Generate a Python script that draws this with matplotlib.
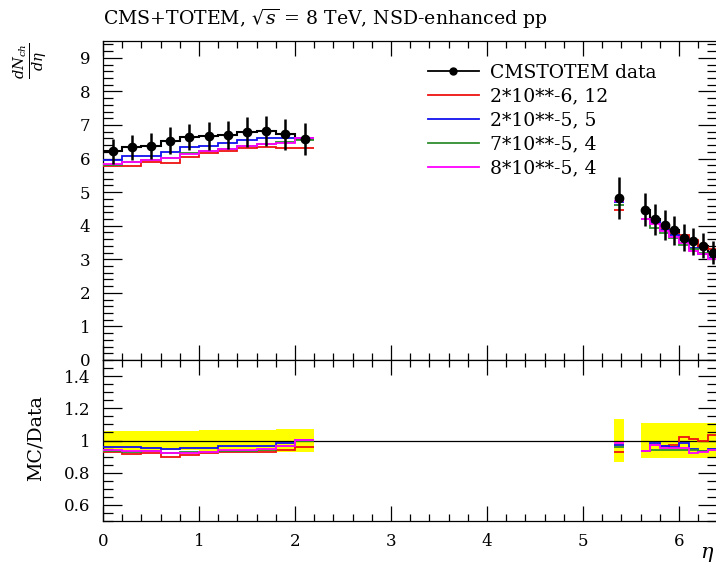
import numpy as np
import matplotlib
matplotlib.use('Agg')
from matplotlib import pyplot as plt
from matplotlib.lines import Line2D
from matplotlib.ticker import MultipleLocator, FormatStrFormatter

plt.rcParams['font.family'] = ['DejaVu Serif']
plt.rcParams['mathtext.fontset'] = 'dejavuserif'

# CMS bins (central)
edges_c = [0.0, 0.2, 0.4, 0.6, 0.8, 1.0, 1.2, 1.4, 1.6, 1.8, 2.0, 2.2]
x_c = [0.1, 0.3, 0.5, 0.7, 0.9, 1.1, 1.3, 1.5, 1.7, 1.9, 2.1]
data_c = [6.21, 6.33, 6.38, 6.53, 6.64, 6.68, 6.70, 6.79, 6.82, 6.72, 6.58]
err_c = [0.36, 0.38, 0.38, 0.40, 0.40, 0.42, 0.42, 0.44, 0.46, 0.46, 0.48]

# TOTEM bins (forward): one lone bin, then 5.6 - 6.4
edges_f1 = [5.325, 5.425]
edges_f2 = [5.6, 5.7, 5.8, 5.9, 6.0, 6.1, 6.2, 6.3, 6.4]
x_f = [5.375, 5.65, 5.75, 5.85, 5.95, 6.05, 6.15, 6.25, 6.35]
data_f = [4.82, 4.48, 4.19, 4.03, 3.86, 3.64, 3.53, 3.40, 3.20]
err_f = [0.63, 0.50, 0.46, 0.45, 0.43, 0.40, 0.39, 0.37, 0.35]

# MC predictions
red_c = [5.77, 5.78, 5.90, 5.87, 6.04, 6.16, 6.21, 6.30, 6.34, 6.31, 6.31]
blue_c = [5.97, 6.08, 6.07, 6.18, 6.34, 6.37, 6.46, 6.55, 6.60, 6.61, 6.61]
green_c = [5.82, 5.89, 5.95, 6.02, 6.15, 6.22, 6.28, 6.36, 6.43, 6.49, 6.55]
magenta_c = [5.83, 5.90, 5.96, 6.01, 6.13, 6.21, 6.29, 6.37, 6.44, 6.47, 6.60]

red_f = [4.47, 4.19, 4.08, 3.90, 3.76, 3.73, 3.56, 3.38, 3.31]
blue_f = [4.70, 4.19, 4.12, 3.88, 3.71, 3.58, 3.35, 3.17, 3.04]
green_f = [4.62, 4.19, 3.94, 3.79, 3.63, 3.43, 3.32, 3.18, 3.01]
magenta_f = [4.74, 4.19, 4.06, 3.84, 3.67, 3.47, 3.25, 3.16, 3.01]

mc_labels = ['2*10**-6, 12', '2*10**-5, 5', '7*10**-5, 4', '8*10**-5, 4']
mc_colors = ['#ee1111', '#1111ee', '#2f8f2f', '#ff00ff']
mc_central = [red_c, blue_c, green_c, magenta_c]
mc_forward = [red_f, blue_f, green_f, magenta_f]

W, H = 716, 569
fig = plt.figure(figsize=(W / 100, H / 100), dpi=100)
ax = fig.add_axes([103 / W, 1 - 360 / H, 614.4 / W, 319 / H])
rax = fig.add_axes([103 / W, 1 - 521 / H, 614.4 / W, 161 / H], sharex=ax)

dc = np.array(data_c)
df = np.array(data_f)
ec = np.array(err_c)
ef = np.array(err_f)

# main panel
ax.stairs(data_c, edges_c, baseline=None, color='black', lw=1.5, zorder=2)
ax.stairs(data_f[1:], edges_f2, baseline=None, color='black', lw=1.5, zorder=2)
for col, mcc, mcf in zip(mc_colors, mc_central, mc_forward):
    ax.stairs(mcc, edges_c, baseline=None, color=col, lw=1.3, zorder=3)
    ax.stairs(mcf[:1], edges_f1, baseline=None, color=col, lw=1.3, zorder=3)
    ax.stairs(mcf[1:], edges_f2, baseline=None, color=col, lw=1.3, zorder=3)
ax.errorbar(x_c, data_c, yerr=err_c, fmt='o', color='black', ms=6,
            elinewidth=1.8, capsize=0, zorder=5)
ax.errorbar(x_f, data_f, yerr=err_f, fmt='o', color='black', ms=6,
            elinewidth=1.8, capsize=0, zorder=5)

ax.set_xlim(0, 6.4)
ax.set_ylim(0, 9.5)
ax.yaxis.set_major_locator(MultipleLocator(1))
ax.yaxis.set_minor_locator(MultipleLocator(0.2))
ax.xaxis.set_major_locator(MultipleLocator(1))
ax.xaxis.set_minor_locator(MultipleLocator(0.2))
plt.setp(ax.get_xticklabels(), visible=False)

handles = [Line2D([], [], color='black', lw=1.3, marker='o', ms=5)]
handles += [Line2D([], [], color=c, lw=1.3) for c in mc_colors]
ax.legend(handles, ['CMSTOTEM data'] + mc_labels, loc='upper left',
          bbox_to_anchor=(428 / W, 1 - 64 / H), bbox_transform=fig.transFigure,
          frameon=False, fontsize=13.5, handlelength=2.7, handletextpad=0.6,
          labelspacing=0.31, borderpad=0, borderaxespad=0)

# ratio panel
rax.stairs(1 + ec / dc, edges_c, baseline=1 - ec / dc, fill=True, color='#ffff00', lw=0, zorder=1)
rax.stairs(1 + ef[:1] / df[:1], edges_f1, baseline=1 - ef[:1] / df[:1], fill=True,
           color='#ffff00', lw=0, zorder=1)
rax.stairs(1 + ef[1:] / df[1:], edges_f2, baseline=1 - ef[1:] / df[1:], fill=True,
           color='#ffff00', lw=0, zorder=1)
rax.axhline(1, color='black', lw=0.9, zorder=2)
for col, mcc, mcf in zip(mc_colors, mc_central, mc_forward):
    rc = np.array(mcc) / dc
    rf = np.array(mcf) / df
    rax.stairs(rc, edges_c, baseline=None, color=col, lw=1.3, zorder=3)
    rax.stairs(rf[:1], edges_f1, baseline=None, color=col, lw=1.3, zorder=3)
    rax.stairs(rf[1:], edges_f2, baseline=None, color=col, lw=1.3, zorder=3)

rax.set_ylim(0.5, 1.5)
rax.set_yticks([0.6, 0.8, 1.0, 1.2, 1.4])
rax.yaxis.set_minor_locator(MultipleLocator(0.05))
rax.yaxis.set_major_formatter(FormatStrFormatter('%g'))

for a in (ax, rax):
    a.tick_params(which='both', direction='in', top=True, right=True,
                  labelsize=12, width=0.9)
    a.tick_params(axis='x', which='major', length=11, pad=9)
    a.tick_params(axis='x', which='minor', length=5)
    a.tick_params(axis='y', which='major', length=14, pad=9)
    a.tick_params(axis='y', which='minor', length=7)
    for s in a.spines.values():
        s.set_linewidth(0.9)

title = fig.text(103 / W, 1 - 25 / H, r'CMS+TOTEM, $\sqrt{s}$ = 8 TeV, NSD-enhanced pp',
                 fontsize=14, va='baseline', ha='left')
fig.text(31 / W, 1 - 42 / H, r'$\frac{dN_{ch}}{d\eta}$', fontsize=15,
         rotation=90, va='top', ha='center')
mcdata = fig.text(36 / W, 1 - 438 / H, 'MC/Data', fontsize=14.5, rotation=90,
                  va='center', ha='center')
fig.text(714 / W, 1 - 555 / H, r'$\eta$', fontsize=15, va='center', ha='right')

# scale title / ratio label to the widths seen in the reference
fig.canvas.draw()
bb = title.get_window_extent()
title.set_fontsize(title.get_fontsize() * 445 / bb.width)
bb = mcdata.get_window_extent()
mcdata.set_fontsize(mcdata.get_fontsize() * 86 / bb.height)

fig.savefig('out.png', dpi=100)
